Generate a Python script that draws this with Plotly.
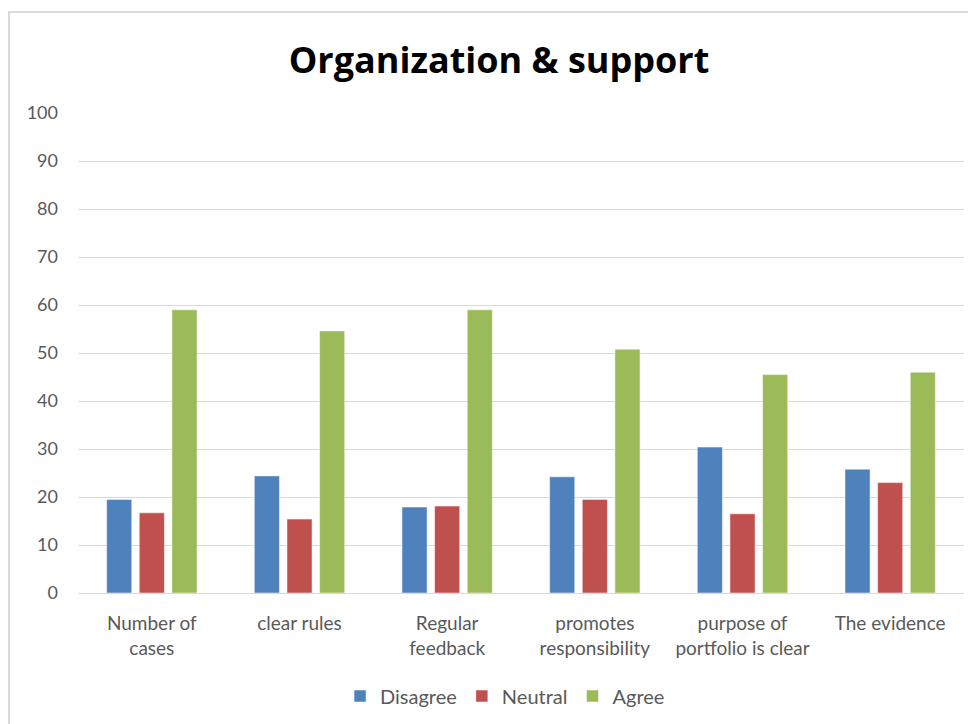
import plotly.graph_objects as go

categories = ["Number of<br>cases", "clear rules", "Regular<br>feedback", "promotes<br>responsibility",
              "purpose of<br>portfolio is clear", "The evidence"]
disagree = [19.5, 24.4, 17.9, 24.2, 30.4, 25.8]
neutral = [16.7, 15.4, 18.1, 19.5, 16.5, 23.0]
agree = [59.0, 54.6, 59.0, 50.8, 45.5, 46.0]
series_names = ["Disagree", "Neutral", "Agree"]
colors = ["#4F81BD", "#C0504D", "#9BBB59"]

fig = go.Figure()
for name, vals, c in zip(series_names, [disagree, neutral, agree], colors):
    fig.add_trace(go.Bar(x=categories, y=vals, name=name, marker_color=c,
                         marker_line=dict(color="rgba(255,255,255,0.5)", width=1)))

OFF = 8  # page body margin
W, H = 976 - OFF, 724 - OFF
L = 78 - OFF
T = 113 - OFF
R = W - (964 - OFF)
B = H - (593 - OFF)
pw, ph = W - L - R, H - T - B

fig.update_layout(
    width=W, height=H,
    margin=dict(l=L, r=R, t=T, b=B, autoexpand=False),
    paper_bgcolor="white", plot_bgcolor="white",
    font=dict(family="Lato, 'Open Sans', sans-serif", color="#595959", size=19),
    title=dict(text="<b>Organization & support</b>", x=(499 - OFF - L) / pw, xref="paper", xanchor="center",
               y=1 - (60 - OFF) / H, yanchor="middle",
               font=dict(family="'Open Sans', Lato, sans-serif", size=36, color="black")),
    barmode="group", bargap=0.337, bargroupgap=0.23,
    showlegend=True,
    legend=dict(orientation="h", x=0.482, xanchor="center", y=-(696 - 593) / ph, yanchor="middle",
                font=dict(size=20, color="#595959"), itemwidth=30, traceorder="normal"),
    yaxis=dict(range=[0, 100], dtick=10, showgrid=True, gridcolor="#d9d9d9", gridwidth=1,
               zeroline=False, showline=False, ticks="", ticklabelstandoff=19,
               tickfont=dict(size=18, color="#595959")),
    xaxis=dict(showline=True, linecolor="#d9d9d9", linewidth=1, ticks="",
               tickfont=dict(size=19, color="#595959"), ticklabelstandoff=13, tickangle=0),
)

fig.add_shape(type="rect", xref="paper", yref="paper",
              x0=(9 - OFF - L) / pw, x1=(W + 10 - L) / pw,
              y0=-(H + 10 - (H - B)) / ph, y1=(H - B - (12 - OFF)) / ph,
              line=dict(color="#d9d9d9", width=2), fillcolor="rgba(0,0,0,0)", layer="below")

fig.write_html("out.html")
